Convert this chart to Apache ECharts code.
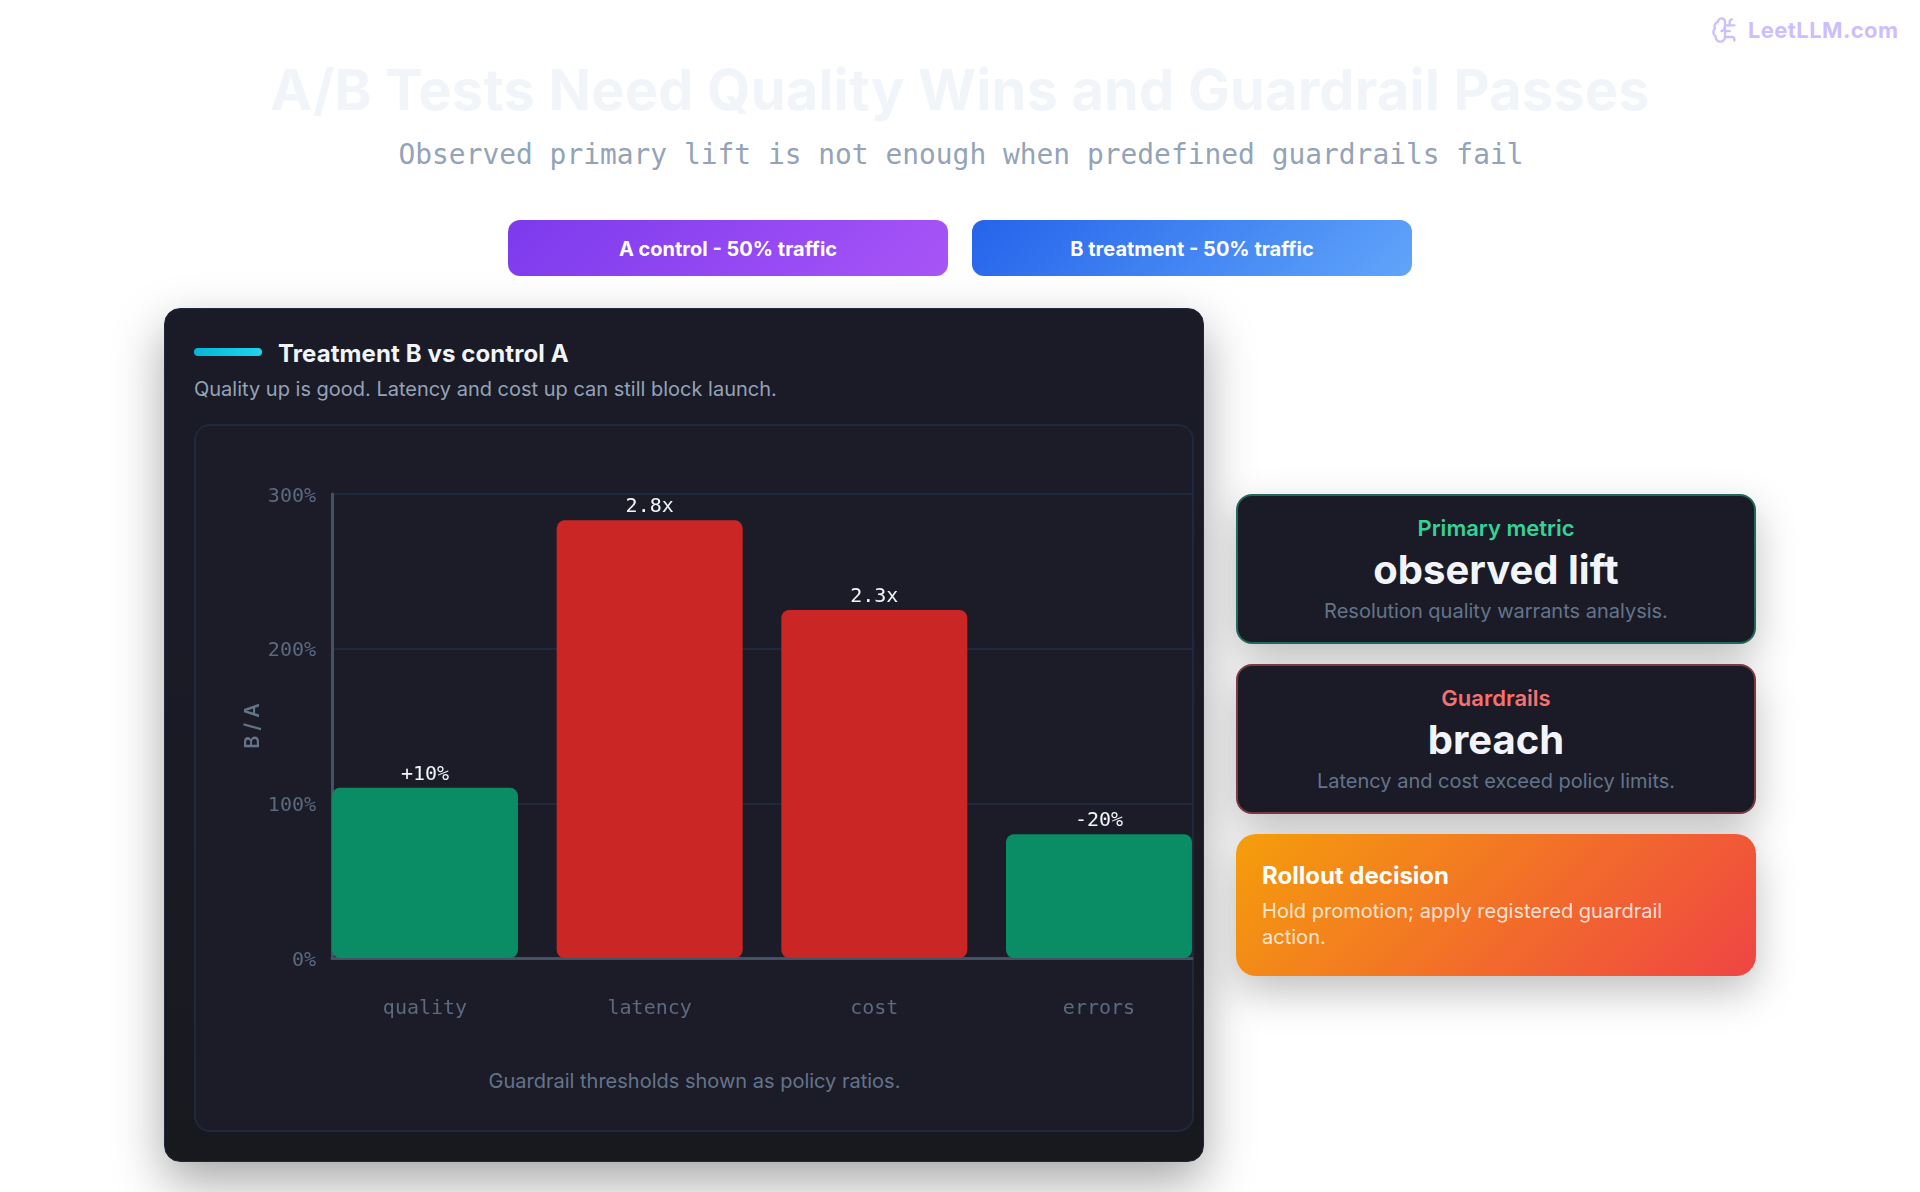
<!DOCTYPE html>
<html lang="en">
<head>
<meta charset="utf-8">
<title>A/B Tests Need Quality Wins and Guardrail Passes</title>
<script src="https://cdn.jsdelivr.net/npm/echarts@6/dist/echarts.min.js"></script>
<style>
  * { box-sizing: border-box; margin: 0; padding: 0; }
  html, body { width: 1920px; height: 1192px; background: #fff; overflow: hidden; font-family: Inter, sans-serif; }
  .abs { position: absolute; }
  .center { text-align: center; }
  .brand { left: 1711px; top: 15px; display: flex; align-items: center; gap: 9px; color: #cdbffd; font-size: 22px; font-weight: 700; line-height: 30px; letter-spacing: .4px; }
  .title { left: 0; width: 1920px; top: 54px; font-size: 56px; line-height: 72px; font-weight: 700; letter-spacing: .13px; color: #f1f5f9; }
  .subtitle { left: 1px; width: 1920px; top: 135px; font-family: "DejaVu Sans Mono", monospace; font-size: 27.9px; line-height: 40px; color: #94a3b8; }
  .chip { top: 220px; width: 440px; height: 56px; border-radius: 12px; color: #fff; font-size: 20px; font-weight: 700; line-height: 58px; text-align: center; }
  .chip.a { left: 508px; background: linear-gradient(135deg, #7c3aed, #a855f7); }
  .chip.b { left: 972px; background: linear-gradient(135deg, #2563eb, #60a5fa); }
  .card { left: 164px; top: 308px; width: 1040px; height: 854px; border-radius: 16px; border: 1px solid #1e293b;
          background: linear-gradient(180deg, #1a1b26 40%, #18191f 100%); box-shadow: 0 20px 50px rgba(0,0,0,.35); }
  .accent { left: 194px; top: 348px; width: 68px; height: 8px; border-radius: 4px; background: linear-gradient(90deg, #06b6d4, #22d3ee); }
  .card-title { left: 278px; top: 338px; font-size: 24px; font-weight: 700; line-height: 32px; letter-spacing: .1px; color: #f1f5f9; }
  .card-sub { left: 194px; top: 375px; font-size: 20px; line-height: 28px; color: #94a3b8; }
  .panel { left: 194px; top: 424px; width: 1000px; height: 708px; border-radius: 16px; border: 2px solid #1e293b; background: #1b1c27; }
  .foot { left: 195px; width: 999px; top: 1067px; font-size: 20px; line-height: 28px; color: #64748b; }
  #chart { left: 0; top: 0; width: 1920px; height: 1192px; }
  .stat { left: 1236px; width: 520px; height: 150px; border-radius: 16px; border: 2px solid; background: #1a1b26; box-shadow: 0 16px 40px rgba(0,0,0,.25); }
  .stat.ok { top: 494px; border-color: #22695a; }
  .stat.bad { top: 664px; border-color: #7a3a43; }
  .stat div { position: absolute; left: 0; width: 100%; text-align: center; }
  .kicker { top: 18px; font-size: 22px; font-weight: 600; line-height: 28px; }
  .ok .kicker { color: #34d399; }
  .bad .kicker { color: #f87171; }
  .big { top: 49px; font-size: 40px; font-weight: 700; line-height: 50px; color: #f1f5f9; }
  .note { top: 101px; font-size: 20px; line-height: 28px; color: #64748b; }
  .decision { left: 1236px; top: 834px; width: 520px; height: 142px; border-radius: 20px; padding: 26px 26px; color: #fff;
              background: linear-gradient(135deg, #f59e0b, #ef4444); box-shadow: 0 16px 40px rgba(0,0,0,.25); }
  .decision h3 { font-size: 24px; font-weight: 700; line-height: 32px; }
  .decision p { font-size: 20px; line-height: 26px; margin-top: 6px; color: rgba(255,255,255,.8); width: 420px; letter-spacing: .02px; }
</style>
</head>
<body>
  <div class="abs card"></div>
  <div class="abs accent"></div>
  <div class="abs card-title">Treatment B vs control A</div>
  <div class="abs card-sub">Quality up is good. Latency and cost up can still block launch.</div>
  <div class="abs panel"></div>
  <div class="abs foot center">Guardrail thresholds shown as policy ratios.</div>

  <div class="abs brand">
    <svg width="28" height="28" viewBox="0 0 24 24" fill="none" stroke="#cdbffd" stroke-width="2" stroke-linecap="round" stroke-linejoin="round">
      <path d="M12 5a3 3 0 1 0-5.997.125 4 4 0 0 0-2.526 5.77 4 4 0 0 0 .556 6.588A4 4 0 1 0 12 18Z"/>
      <path d="M9 13a4.5 4.5 0 0 0 3-4"/>
      <path d="M12 13h4"/>
      <path d="M12 18h6a2 2 0 0 1 2 2v1"/>
      <path d="M12 8h8"/>
      <path d="M16 8V5a2 2 0 0 1 2-2"/>
    </svg>
    <span>LeetLLM.com</span>
  </div>
  <div class="abs title center">A/B Tests Need Quality Wins and Guardrail Passes</div>
  <div class="abs subtitle center">Observed primary lift is not enough when predefined guardrails fail</div>
  <div class="abs chip a">A control - 50% traffic</div>
  <div class="abs chip b">B treatment - 50% traffic</div>

  <div class="abs stat ok">
    <div class="kicker">Primary metric</div>
    <div class="big">observed lift</div>
    <div class="note">Resolution quality warrants analysis.</div>
  </div>
  <div class="abs stat bad">
    <div class="kicker">Guardrails</div>
    <div class="big">breach</div>
    <div class="note">Latency and cost exceed policy limits.</div>
  </div>
  <div class="abs decision">
    <h3>Rollout decision</h3>
    <p>Hold promotion; apply registered guardrail action.</p>
  </div>

  <div id="chart" class="abs"></div>

<script>
// Metric ratios of treatment B against control A, in percent.
const categories = ['quality', 'latency', 'cost', 'errors'];
const ratios = [110, 283, 225, 80];
const verdicts = ['pass', 'breach', 'breach', 'pass'];
const yTicks = [0, 100, 200, 300];

const verdictColors = { pass: '#0a8c64', breach: '#cb2626' };

// Ratios below 200% read as a change, larger ones as a multiple.
function ratioLabel(v) {
  if (v >= 200) return (v / 100).toFixed(1) + 'x';
  const change = v - 100;
  return (change > 0 ? '+' : '') + change + '%';
}

const mono = '"DejaVu Sans Mono", monospace';
// The outer bars sit flush with the plot edges, so the band axis is a numeric one.
const edge = 0.414;

const chart = echarts.init(document.getElementById('chart'), null, { renderer: 'canvas' });
chart.setOption({
  backgroundColor: 'transparent',
  animation: false,
  grid: { left: 332, width: 860, top: 494, height: 464 },
  xAxis: {
    type: 'value',
    min: -edge,
    max: categories.length - 1 + edge,
    splitLine: { show: false },
    axisTick: { show: false },
    axisLine: { show: true, onZero: false, lineStyle: { color: '#445268', width: 3 } },
    axisLabel: {
      customValues: categories.map((_, i) => i),
      formatter: v => categories[v],
      margin: 41,
      fontFamily: mono,
      fontSize: 20,
      color: '#5b6a80'
    }
  },
  yAxis: {
    type: 'value',
    min: yTicks[0],
    max: yTicks[yTicks.length - 1],
    interval: yTicks[1] - yTicks[0],
    name: 'B / A',
    nameLocation: 'middle',
    nameGap: 69,
    nameRotate: 90,
    nameTextStyle: { fontFamily: 'Inter, sans-serif', fontSize: 20, fontWeight: 600, color: '#64748b' },
    axisTick: { show: false },
    axisLine: { show: true, onZero: false, lineStyle: { color: '#445268', width: 3 } },
    splitLine: { show: true, lineStyle: { color: '#1e293b', width: 2 } },
    axisLabel: {
      margin: 16,
      verticalAlign: 'top',
      lineHeight: 5,
      formatter: '{value}%',
      fontFamily: mono,
      fontSize: 20,
      color: '#5b6a80'
    }
  },
  series: [{
    type: 'bar',
    barWidth: 186,
    clip: false,
    data: ratios.map((v, i) => ({
      value: [i, v],
      itemStyle: { color: verdictColors[verdicts[i]], borderRadius: 8 }
    })),
    label: {
      show: true,
      position: 'top',
      distance: 3,
      formatter: p => ratioLabel(p.value[1]),
      fontFamily: mono,
      fontSize: 20,
      color: '#f1f5f9'
    }
  }]
});
</script>
</body>
</html>
